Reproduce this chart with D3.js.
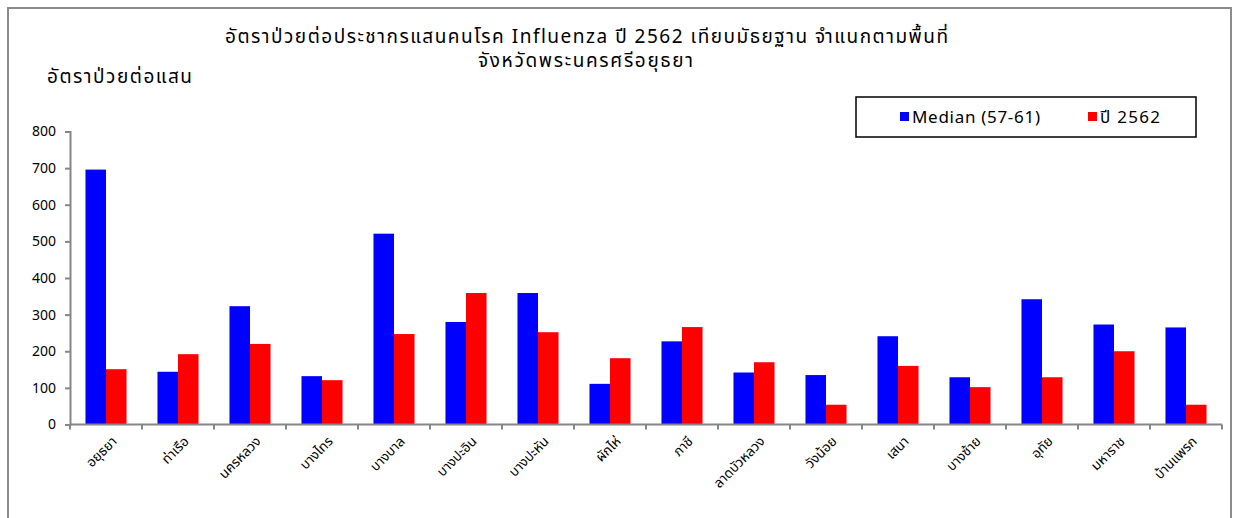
<!DOCTYPE html>
<html>
<head>
<meta charset="utf-8">
<script src="https://cdn.jsdelivr.net/npm/d3@7"></script>
<style>
  body { margin: 0; background: #fff; }
  text { font-family: Tahoma, "Noto Sans Thai", "Noto Sans", "DejaVu Sans", sans-serif; fill: #000; }
</style>
</head>
<body>
<script>
// districts
var districts = ["อยุธยา", "ท่าเรือ", "นครหลวง", "บางไทร", "บางบาล", "บางปะอิน", "บางปะหัน", "ผักไห่",
                 "ภาชี", "ลาดบัวหลวง", "วังน้อย", "เสนา", "บางซ้าย", "อุทัย", "มหาราช", "บ้านแพรก"];
var median = [696, 144, 323, 132, 521, 280, 359, 111, 227, 142, 135, 241, 129, 342, 273, 265];
var y2562  = [151, 192, 220, 121, 247, 359, 252, 181, 266, 170, 54, 160, 102, 129, 200, 54];
var seriesNames = ["Median (57-61)", "ปี 2562"];
var yTicks = [0, 100, 200, 300, 400, 500, 600, 700, 800];

var W = 1235, H = 518;
var svg = d3.select("body").append("svg").attr("width", W).attr("height", H);

// outer frame
svg.append("rect").attr("x", 8).attr("y", 8).attr("width", 1223).attr("height", 530)
   .attr("fill", "none").attr("stroke", "#8c8c8c").attr("stroke-width", 2);

var x = d3.scaleBand().domain(districts).range([70, 1222]).paddingInner(0.43).paddingOuter(0.215);
var y = d3.scaleLinear().domain([0, 800]).range([424.5, 131.5]);
var xs = d3.scaleBand().domain([0, 1]).range([0, x.bandwidth()]);
var colors = ["#0000ff", "#ff0000"];

var g = svg.append("g");

var groups = g.selectAll("g.grp").data(districts).enter().append("g")
   .attr("transform", function(d){ return "translate(" + x(d) + ",0)"; });

groups.selectAll("rect").data(function(d, i){ return [median[i], y2562[i]]; }).enter()
   .append("rect")
   .attr("x", function(d, j){ return xs(j); })
   .attr("y", function(d){ return y(d); })
   .attr("width", xs.bandwidth())
   .attr("height", function(d){ return y(0) - y(d); })
   .attr("fill", function(d, j){ return colors[j]; });

// y axis
var yAxis = g.append("g").attr("transform", "translate(70,0)")
   .call(d3.axisLeft(y).tickValues(yTicks).tickSize(5).tickPadding(9));
yAxis.selectAll("text").style("font-size", "14px");

// x axis with ticks at category boundaries
var bounds = d3.range(districts.length + 1).map(function(i){ return 70 + i * (1152 / districts.length); });
g.append("line").attr("x1", 70).attr("x2", 1222).attr("y1", y(0)).attr("y2", y(0));
g.selectAll("line.xt").data(bounds).enter().append("line").attr("class", "xt")
   .attr("x1", function(d){ return d; }).attr("x2", function(d){ return d; })
   .attr("y1", y(0)).attr("y2", y(0) + 5);
g.selectAll("line").attr("stroke", "#868686").attr("stroke-width", 2);
yAxis.select(".domain").attr("stroke", "#868686").attr("stroke-width", 2);
yAxis.selectAll(".tick line").attr("stroke", "#868686").attr("stroke-width", 2);

g.selectAll("text.xl").data(districts).enter().append("text").attr("class", "xl")
   .attr("transform", function(d){ return "translate(" + (x(d) + x.bandwidth() / 2 + 5) + "," + (y(0) + 11) + ") rotate(-45)"; })
   .attr("text-anchor", "end")
   .attr("dy", "0.7em")
   .style("font-size", "13.5px")
   .text(function(d){ return d; });

// titles
svg.append("text").attr("x", 225).attr("y", 43).style("font-size", "19px")
   .attr("textLength", 723).attr("lengthAdjust", "spacing")
   .text("อัตราป่วยต่อประชากรแสนคนโรค Influenza ปี 2562 เทียบมัธยฐาน จำแนกตามพื้นที่");
svg.append("text").attr("x", 478).attr("y", 67).style("font-size", "19px")
   .attr("textLength", 215).attr("lengthAdjust", "spacing")
   .text("จังหวัดพระนครศรีอยุธยา");
svg.append("text").attr("x", 47).attr("y", 83).style("font-size", "19px")
   .attr("textLength", 145).attr("lengthAdjust", "spacing")
   .text("อัตราป่วยต่อแสน");

// legend
var leg = svg.append("g");
leg.append("rect").attr("x", 856).attr("y", 97).attr("width", 340).attr("height", 40)
   .attr("fill", "#fff").attr("stroke", "#000").attr("stroke-width", 1.5);
var legX = [900, 1088];
var legLen = [128, 60];
seriesNames.forEach(function(s, i){
  leg.append("rect").attr("x", legX[i]).attr("y", 112).attr("width", 9).attr("height", 9).attr("fill", colors[i]);
  leg.append("text").attr("x", legX[i] + 12).attr("y", 123).style("font-size", "17px")
     .attr("textLength", legLen[i]).attr("lengthAdjust", "spacing").text(s);
});
</script>
</body>
</html>
